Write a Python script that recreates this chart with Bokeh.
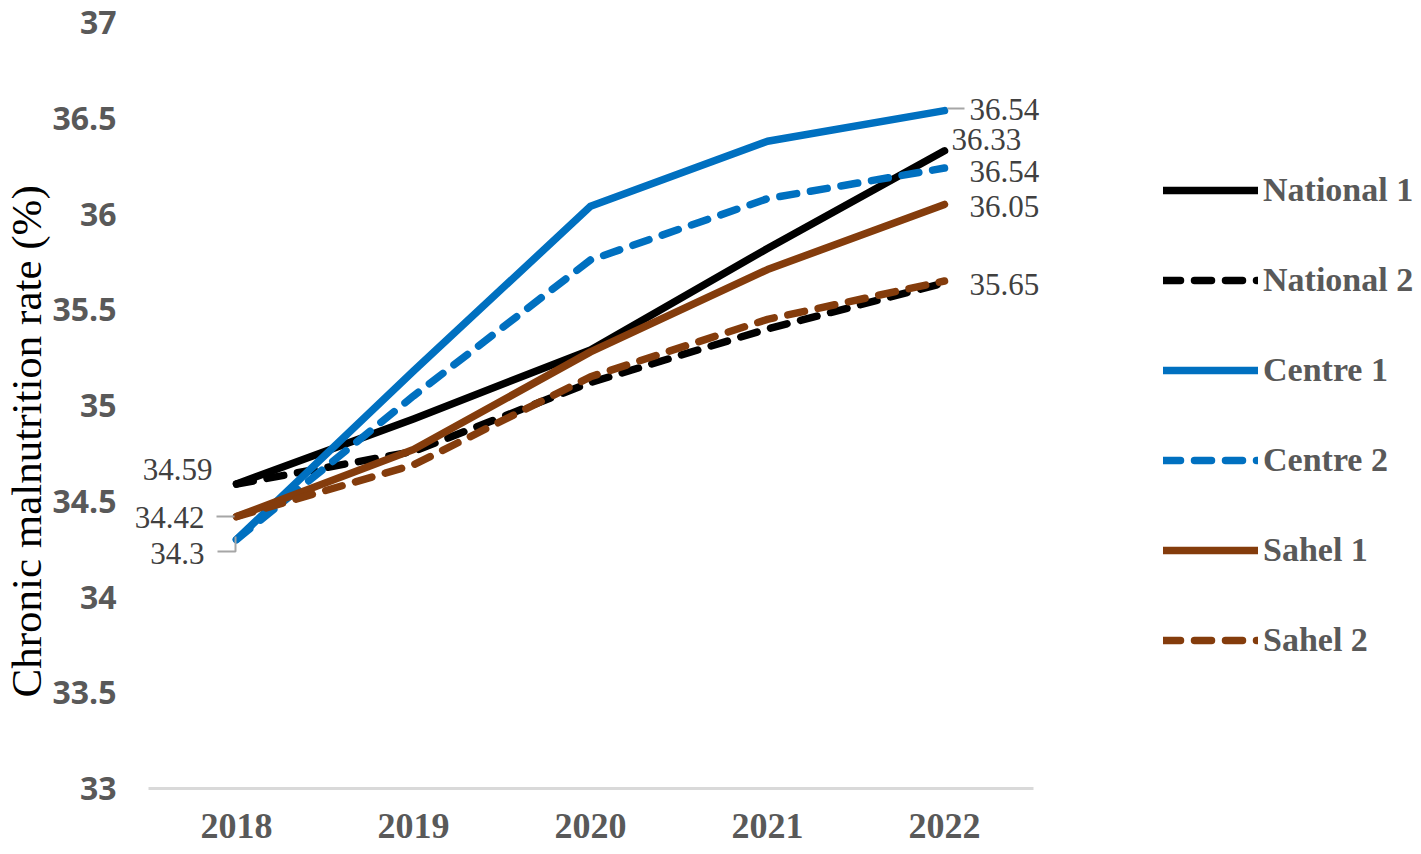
import math
from bokeh.plotting import figure
from bokeh.models import (Range1d, FixedTicker, NumeralTickFormatter, Legend, LegendItem,
                          Title, LabelSet, ColumnDataSource)
from bokeh.embed import file_html
from bokeh.resources import INLINE

# ---------------- data ----------------
years = ["2018", "2019", "2020", "2021", "2022"]
national_1 = [34.59, 34.93, 35.29, 35.82, 36.33]
national_2 = [34.59, 34.76, 35.12, 35.40, 35.64]
centre_1 = [34.30, 35.18, 36.04, 36.38, 36.54]
centre_2 = [34.30, 35.05, 35.76, 36.08, 36.24]
sahel_1 = [34.42, 34.77, 35.28, 35.71, 36.05]
sahel_2 = [34.42, 34.69, 35.15, 35.45, 35.65]
series_names = ["National 1", "National 2", "Centre 1", "Centre 2", "Sahel 1", "Sahel 2"]
y_ticks = [33, 33.5, 34, 34.5, 35, 35.5, 36, 36.5, 37]

# data labels: (series values, shown text)
left_label_series = [national_1, sahel_1, centre_1]
left_label_text = ["34.59", "34.42", "34.3"]
right_label_series = [centre_1, national_1, centre_2, sahel_1, sahel_2]
right_label_text = ["36.54", "36.33", "36.54", "36.05", "35.65"]

# ---------------- layout / styling ----------------
W, H = 1421, 854
LEFT, TOP, BOTTOM = 133, 22, 66
FIRST_X = 236.0          # canvas x of the first category
PX_X = 177.0             # px per category
PX_Y = (H - TOP - BOTTOM) / 4.0

BLACK = "#000000"
BLUE = "#0070C0"
BROWN = "#843C0C"
colors = [BLACK, BLACK, BLUE, BLUE, BROWN, BROWN]
dashes = ["solid", "17 14", "solid", "17 14", "solid", "17 14"]
series = [national_1, national_2, centre_1, centre_2, sahel_1, sahel_2]

x_start = (LEFT - FIRST_X) / PX_X
x_end = (W - FIRST_X) / PX_X

p = figure(width=W, height=H, output_backend="svg", toolbar_location=None,
           x_range=Range1d(x_start, x_end), y_range=Range1d(33, 37),
           min_border_left=LEFT, min_border_right=0, min_border_top=TOP, min_border_bottom=BOTTOM)
p.outline_line_color = None
p.xgrid.grid_line_color = None
p.ygrid.grid_line_color = None
p.background_fill_color = "white"
p.border_fill_color = "white"

xs = list(range(len(years)))

renderers = []
for vals, c, d in zip(series, colors, dashes):
    r = p.line(xs, vals, line_color=c, line_width=7.5, line_dash=d, line_cap="round", line_join="round")
    renderers.append(r)

# leader lines
lead_c = "#A6A6A6"
p.line([-20 / PX_X, -2 / PX_X], [sahel_1[0], sahel_1[0]], line_color=lead_c, line_width=2)
p.line([-1 / PX_X, -1 / PX_X, -19 / PX_X],
       [centre_1[0] + 3 / PX_Y, centre_1[0] - 12 / PX_Y, centre_1[0] - 12 / PX_Y],
       line_color=lead_c, line_width=2)
p.line([4 + 3 / PX_X, 4 + 20 / PX_X], [centre_1[4] + 2 / PX_Y, centre_1[4] + 2 / PX_Y],
       line_color=lead_c, line_width=2)

# x axis
xa = p.xaxis[0]
xa.ticker = FixedTicker(ticks=xs)
xa.bounds = (-0.5, len(years) - 0.5)
xa.major_label_overrides = {i: y for i, y in enumerate(years)}
xa.axis_line_color = "#D9D9D9"
xa.axis_line_width = 3
xa.major_tick_line_color = None
xa.minor_tick_line_color = None
xa.major_tick_out = 0
xa.minor_tick_out = 0
xa.major_label_standoff = 25
xa.major_label_text_font = "Liberation Serif"
xa.major_label_text_font_style = "bold"
xa.major_label_text_font_size = "36px"
xa.major_label_text_color = "#595959"

# y axis
ya = p.yaxis[0]
ya.ticker = FixedTicker(ticks=y_ticks)
ya.formatter = NumeralTickFormatter(format="0.[0]")
ya.axis_line_color = None
ya.major_tick_line_color = None
ya.minor_tick_line_color = None
ya.major_tick_out = 0
ya.minor_tick_out = 0
ya.major_label_standoff = 17
ya.major_label_text_font = "Open Sans"
ya.major_label_text_font_style = "bold"
ya.major_label_text_font_size = "32px"
ya.major_label_text_color = "#595959"

# axis title (left side panel)
p.add_layout(Title(text="Chronic malnutrition rate (%)", align="left", offset=91, standoff=0,
                   text_font="Liberation Serif", text_font_style="normal",
                   text_font_size="43px", text_color="#000000"), "left")

# data labels
left_src = ColumnDataSource(dict(
    x=[0] * len(left_label_series),
    y=[s[0] for s in left_label_series],
    text=left_label_text,
    dx=[-24, -32, -32],
    dy=[15, -1, -14],
))
right_src = ColumnDataSource(dict(
    x=[4] * len(right_label_series),
    y=[s[4] for s in right_label_series],
    text=right_label_text,
    dx=[25, 7, 25, 25, 25],
    dy=[1, 11, -3, -2, -3],
))
for src, align in ((left_src, "right"), (right_src, "left")):
    p.add_layout(LabelSet(x="x", y="y", text="text", source=src, x_offset="dx", y_offset="dy",
                          text_align=align, text_baseline="middle",
                          text_font="Liberation Serif", text_font_size="31px",
                          text_color="#404040"))

# legend (inside the wide frame, right of the axes area)
items = [LegendItem(label=n, renderers=[r]) for n, r in zip(series_names, renderers)]
legend_top = 190 - 20          # canvas y of legend top
legend_h = 6 * 40 + 5 * 50
legend = Legend(items=items,
                location=(1163 - LEFT, (H - BOTTOM) - (legend_top + legend_h)),
                orientation="vertical",
                glyph_width=95, glyph_height=40, label_height=40, spacing=50,
                label_standoff=5, padding=0, margin=0,
                border_line_color=None, background_fill_alpha=0,
                label_text_font="Liberation Serif", label_text_font_style="bold",
                label_text_font_size="34px", label_text_color="#595959",
                label_text_baseline="middle")
p.add_layout(legend)

open("out.html", "w").write(file_html(p, INLINE))
